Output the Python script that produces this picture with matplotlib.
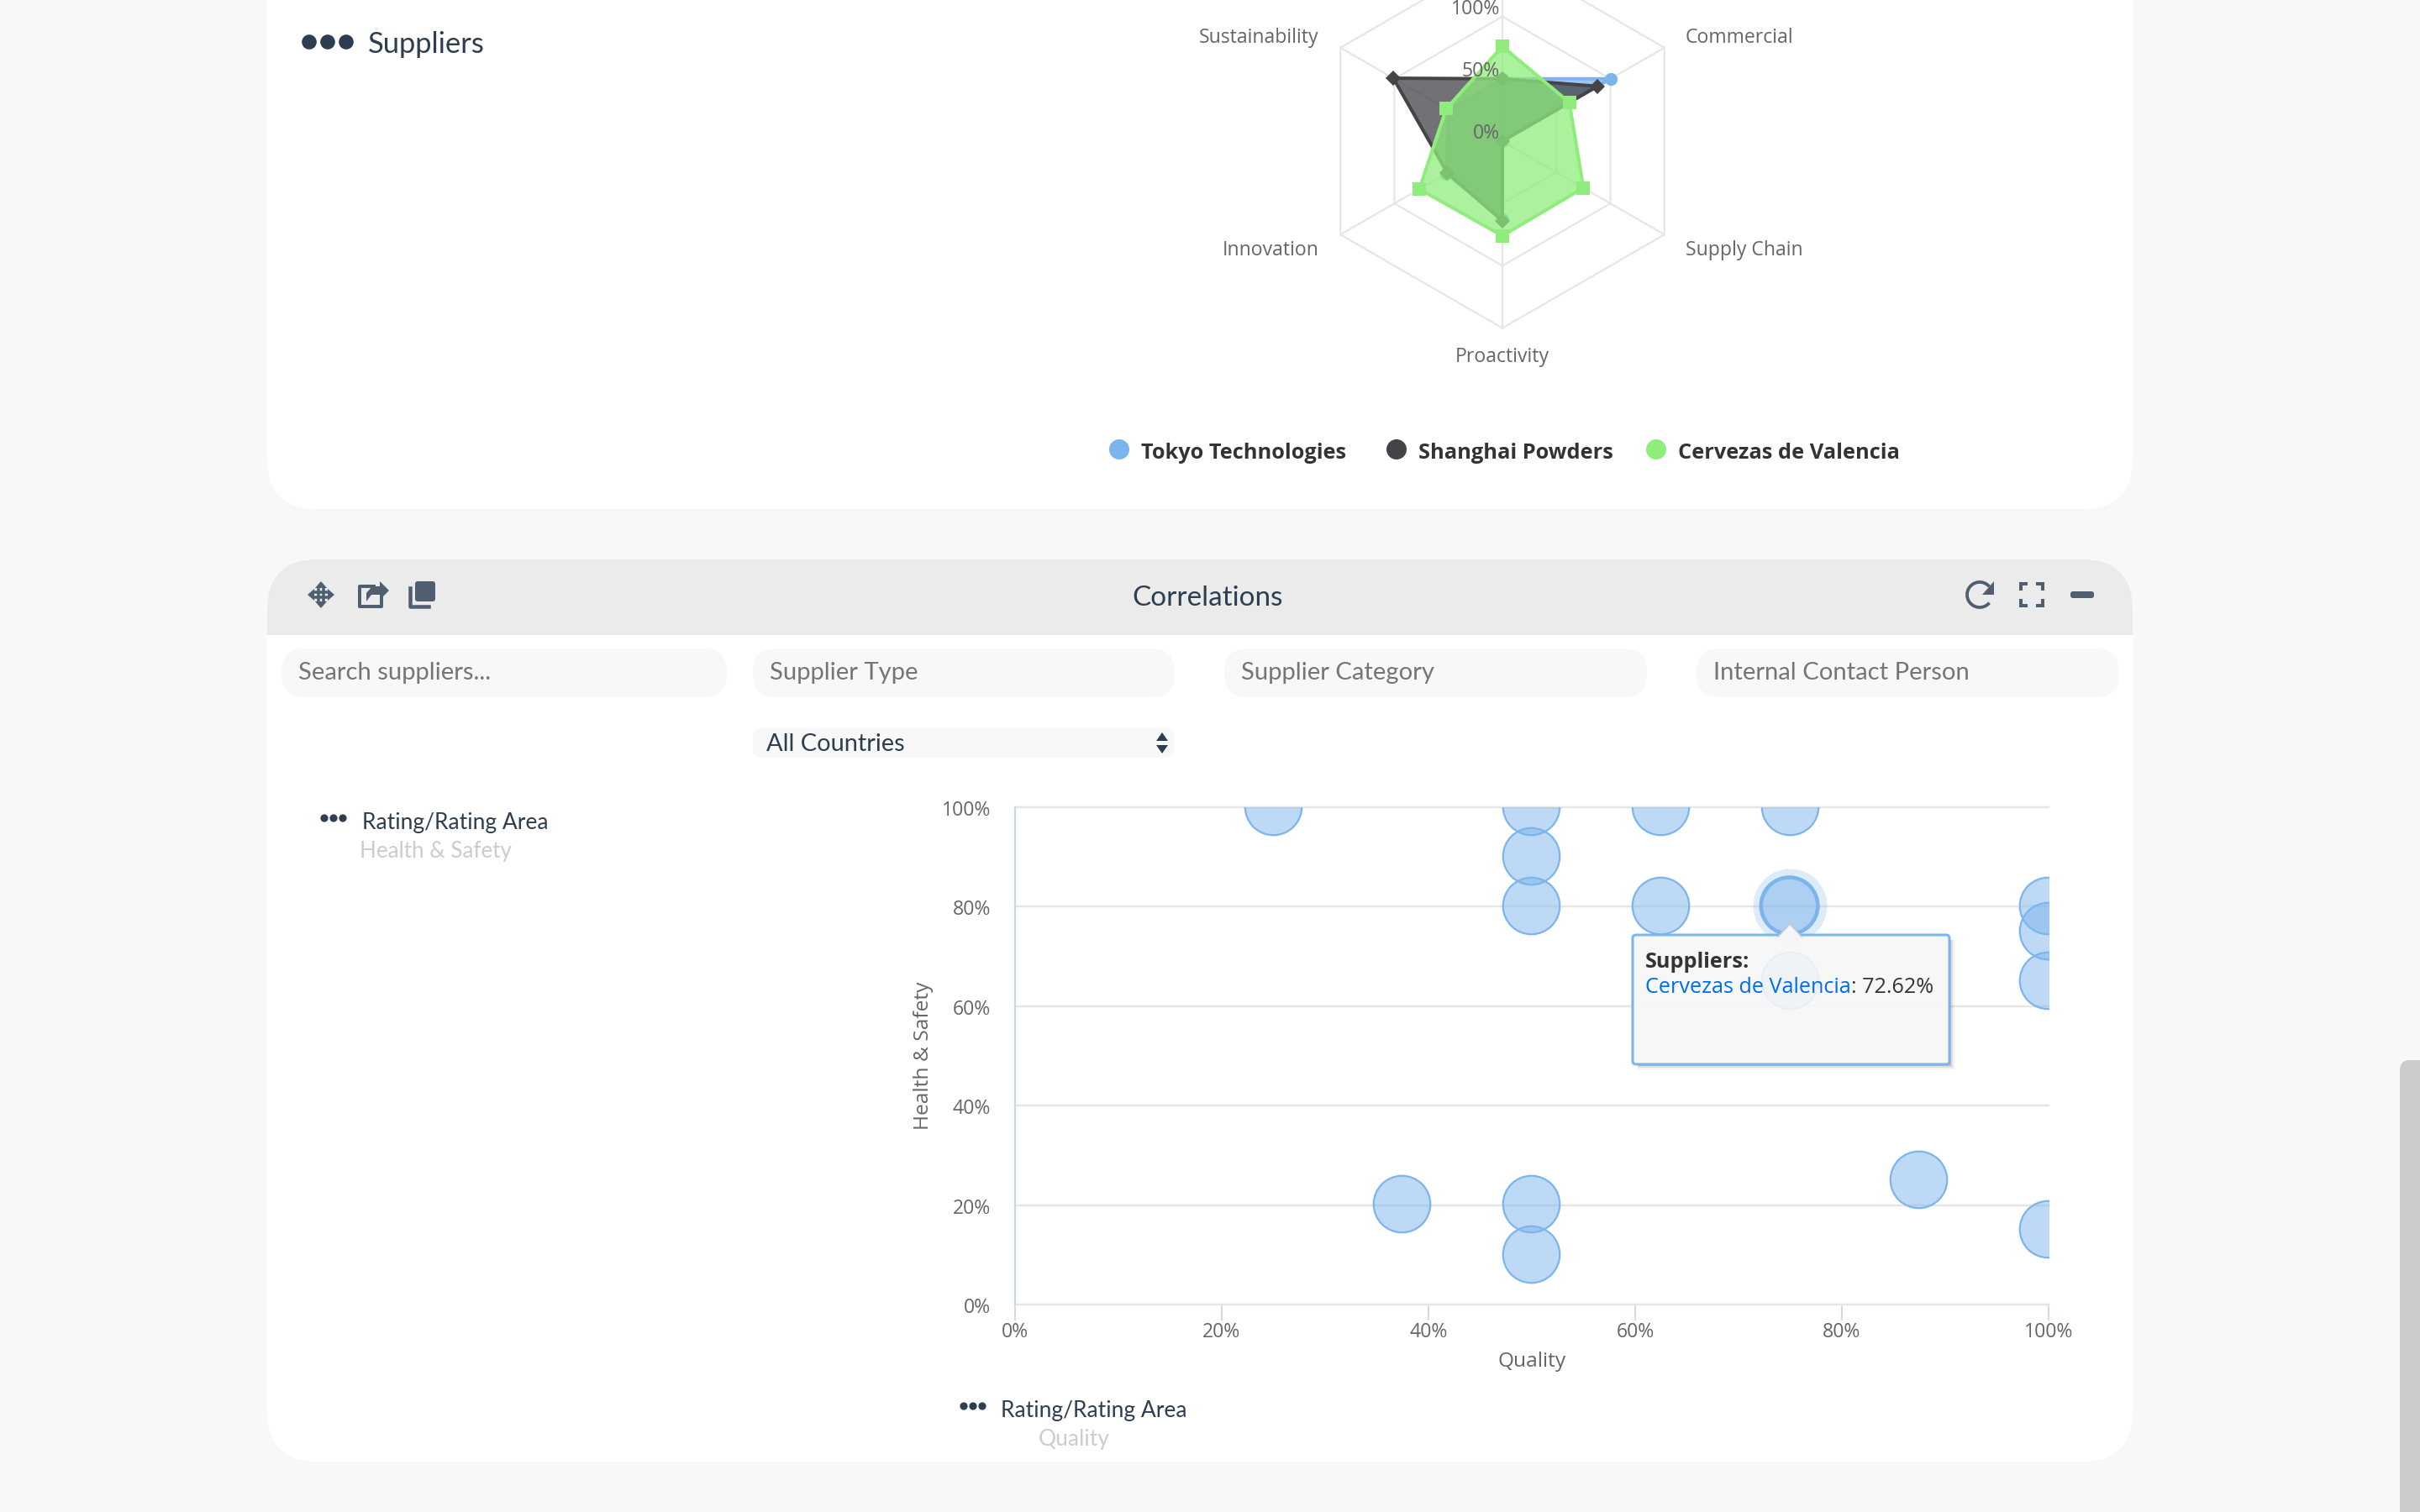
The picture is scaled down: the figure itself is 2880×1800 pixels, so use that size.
import numpy as np
import matplotlib
matplotlib.use("Agg")
import matplotlib.pyplot as plt
from matplotlib.patches import FancyBboxPatch, Rectangle, Circle, Polygon, Arc
from matplotlib.ticker import FuncFormatter
from matplotlib.transforms import ScaledTranslation

# ---------- data ----------
radar_categories = ["", "Commercial", "Supply Chain", "Proactivity", "Innovation", "Sustainability"]
radar_ticks = [0, 50, 100]
tokyo = [50, 100, 0, 63, 52, 50]
shanghai = [50, 88, 0, 64, 51, 101]
cervezas = [76, 62, 75, 76, 77, 52]
series_names = ["Tokyo Technologies", "Shanghai Powders", "Cervezas de Valencia"]

quality = [25, 50, 50, 50, 62.5, 62.5, 75, 75, 75, 100, 100, 100, 37.5, 50, 50, 87.5, 100]
health = [100, 100, 90, 80, 100, 80, 100, 80, 65, 80, 75, 65, 20, 20, 10, 25, 15]
highlight_x = [75]
highlight_y = [80]
axis_ticks = [0, 20, 40, 60, 80, 100]

filters = ["Search suppliers...", "Supplier Type", "Supplier Category", "Internal Contact Person"]

# ---------- style ----------
BLUE, DARK, GREEN = "#7cb5ec", "#434348", "#90ed7d"
NAVY = "#2c3e50"
ICON = "#505f6f"
W, H = 2880, 1800
UI = "Lato"
CH = "Open Sans"


def pt(px):
    return px * 0.72


fig = plt.figure(figsize=(W / 100, H / 100), dpi=100, facecolor="#f8f8f8")

# ---------- page background ----------
bg = fig.add_axes([0, 0, 1, 1], zorder=0)
bg.set_xlim(0, W)
bg.set_ylim(H, 0)
bg.axis("off")


def rbox(ax, x0, y0, x1, y1, r, **kw):
    p = FancyBboxPatch((x0, y0), x1 - x0, y1 - y0,
                       boxstyle=f"round,pad=0,rounding_size={r}", **kw)
    ax.add_patch(p)
    return p


rbox(bg, 318, -200, 2538, 606, 60, fc="white", ec="none")
rbox(bg, 318, 666, 2538, 1740, 60, fc="white", ec="none")
hdr = rbox(bg, 318, 666, 2538, 1740, 60, fc="#ebebeb", ec="none")
hdr.set_clip_path(Rectangle((318, 660), 2220, 96, transform=bg.transData))
# scrollbar
rbox(bg, 2856, 1262, 2890, 1900, 12, fc="#cccccc", ec="none")

# top card
for cx in (368, 390, 412):
    bg.add_patch(Circle((cx, 50), 8.8, fc=NAVY, ec="none"))
bg.text(438, 53, "Suppliers", fontfamily=UI, fontsize=pt(34.5), color=NAVY, va="center", ha="left")

# header
bg.text(1437, 712, "Correlations", fontfamily=UI, fontsize=pt(33.3), color=NAVY, va="center", ha="center")

# icons
def tri(pts, c=ICON):
    bg.add_patch(Polygon(pts, closed=True, fc=c, ec="none"))


# move
mx, my = 382, 708
bg.plot([mx - 10, mx + 10], [my - 3, my - 3], color=ICON, lw=pt(3.5), solid_capstyle="butt")
bg.plot([mx - 10, mx + 10], [my + 3, my + 3], color=ICON, lw=pt(3.5), solid_capstyle="butt")
bg.plot([mx - 3, mx - 3], [my - 10, my + 10], color=ICON, lw=pt(3.5), solid_capstyle="butt")
bg.plot([mx + 3, mx + 3], [my - 10, my + 10], color=ICON, lw=pt(3.5), solid_capstyle="butt")
tri([(mx, my - 16), (mx - 7, my - 8), (mx + 7, my - 8)])
tri([(mx, my + 16), (mx - 7, my + 8), (mx + 7, my + 8)])
tri([(mx - 16, my), (mx - 8, my - 7), (mx - 8, my + 7)])
tri([(mx + 16, my), (mx + 8, my - 7), (mx + 8, my + 7)])
# share
bg.plot([445, 428, 428, 454, 454], [698, 698, 722, 722, 712], color=ICON, lw=pt(4), solid_joinstyle="round")
tri([(452, 692), (463, 703), (452, 714), (452, 708), (442, 708), (436, 716), (436, 706), (443, 698), (452, 698)])
# copy
rbox(bg, 494, 692, 518, 716, 3, fc=ICON, ec="none")
bg.plot([488, 488, 510], [700, 722, 722], color=ICON, lw=pt(4.5), solid_joinstyle="round")
# refresh
bg.add_patch(Arc((2356, 708), 30, 30, theta1=-320, theta2=-40, color=ICON, lw=pt(3.8)))
tri([(2373, 692), (2373, 708), (2359, 708)])
# fullscreen
fx0, fx1, fy0, fy1 = 2405, 2431, 695, 721
for (xa, xb, ya, yb) in [(fx0, fx0 + 8, fy0, fy0 + 8), (fx1, fx1 - 8, fy0, fy0 + 8),
                         (fx0, fx0 + 8, fy1, fy1 - 8), (fx1, fx1 - 8, fy1, fy1 - 8)]:
    bg.plot([xa, xa, xb], [yb, ya, ya], color=ICON, lw=pt(4), solid_joinstyle="miter", solid_capstyle="butt")
# minus
rbox(bg, 2464, 704, 2492, 712, 3, fc=ICON, ec="none")

# filter fields
field_x = [(335, 865), (896, 1398), (1457, 1960), (2019, 2522)]
for (a, b), label in zip(field_x, filters):
    rbox(bg, a, 772, b, 830, 28, fc="#f8f8f8", ec="none")
    bg.text(a + 20, 801, label, fontfamily=UI, fontsize=pt(29.2), color="#757575", va="center", ha="left")
rbox(bg, 896, 867, 1397, 902, 10, fc="#f8f8f8", ec="none")
bg.text(912, 886, "All Countries", fontfamily=UI, fontsize=pt(29), color=NAVY, va="center", ha="left")
tri([(1383, 872), (1376, 882), (1390, 882)], NAVY)
tri([(1383, 897), (1376, 887), (1390, 887)], NAVY)

# side legends
for cx in (386, 397, 408):
    bg.add_patch(Circle((cx, 974), 4.6, fc=NAVY, ec="none"))
bg.text(431, 979, "Rating/Rating Area", fontfamily=UI, fontsize=pt(26.4), color=NAVY, va="center", ha="left")
bg.text(428, 1013, "Health & Safety", fontfamily=UI, fontsize=pt(26), color="#cccccc", va="center", ha="left")
for cx in (1147, 1158, 1169):
    bg.add_patch(Circle((cx, 1674), 4.6, fc=NAVY, ec="none"))
bg.text(1191, 1679, "Rating/Rating Area", fontfamily=UI, fontsize=pt(26.4), color=NAVY, va="center", ha="left")
bg.text(1236, 1713, "Quality", fontfamily=UI, fontsize=pt(26.4), color="#cccccc", va="center", ha="left")

# radar legend
for cx, tx, c, name in zip((1332, 1662, 1971), (1358, 1688, 1997), (BLUE, DARK, GREEN), series_names):
    bg.add_patch(Circle((cx, 535), 12, fc=c, ec="none"))
    bg.text(tx, 540, name, fontfamily=CH, fontsize=pt(25.4), fontweight="bold", color="#333333", va="center", ha="left")

# ---------- radar ----------
R = 222.6
cx, cy = 1788, 168
rad = fig.add_axes([(cx - R) / W, 1 - (cy + R) / H, 2 * R / W, 2 * R / H], projection="polar", zorder=1)
rad.set_theta_zero_location("N")
rad.set_theta_direction(-1)
rad.set_ylim(0, 150)
rad.axis("off")
rad.patch.set_alpha(0)
n = len(radar_categories)
theta = np.arange(n) * 2 * np.pi / n
theta_c = np.r_[theta, theta[0]]
for r in radar_ticks[1:] + [150]:
    rad.plot(theta_c, [r] * (n + 1), color="#e6e6e6", lw=pt(2.2), zorder=1, clip_on=False)
for t in theta:
    rad.plot([t, t], [0, 150], color="#e6e6e6", lw=pt(2.2), zorder=1, clip_on=False)

for i, (vals, c, m, ms) in enumerate(zip((tokyo, shanghai, cervezas), (BLUE, DARK, GREEN), ("o", "D", "s"), (11, 9.2, 11.5))):
    v = np.r_[vals, vals[0]]
    z = 3 + i
    rad.fill(theta_c, v, color=c, alpha=0.75, lw=0, zorder=z, clip_on=False)
    rad.plot(theta_c, v, color=c, lw=pt(4), zorder=z + 0.1, clip_on=False, marker=m, ms=ms, mew=0, solid_joinstyle="round")

offs = {1: (25, 12, "left"), 2: (25, -19, "left"), 3: (0, -34, "center"), 4: (-26, -19, "right"), 5: (-26, 12, "right")}
for i, name in enumerate(radar_categories):
    if not name:
        continue
    dx, dy, ha = offs[i]
    rad.annotate(name, (theta[i], 150), xytext=(pt(dx), pt(dy)), textcoords="offset points", ha=ha, va="center",
                 fontfamily=CH, fontsize=pt(23), color="#666666", annotation_clip=False, zorder=9)
for r in radar_ticks:
    rad.annotate(f"{r}%", (0, r), xytext=(pt(-3), pt(9)), textcoords="offset points", ha="right", va="center",
                 fontfamily=CH, fontsize=pt(23), color="#666666", annotation_clip=False, zorder=9)

# ---------- scatter ----------
x0, x1, y0, y1 = 1208, 2438, 961, 1553
ax = fig.add_axes([x0 / W, 1 - y1 / H, (x1 - x0) / W, (y1 - y0) / H], zorder=1)
ax.patch.set_alpha(0)
ax.set_xlim(0, 100)
ax.set_ylim(0, 100)
ax.set_xticks(axis_ticks)
ax.set_yticks(axis_ticks)
fmt = FuncFormatter(lambda v, _: f"{v:.0f}%")
ax.xaxis.set_major_formatter(fmt)
ax.yaxis.set_major_formatter(fmt)
for s in ("top", "right", "bottom"):
    ax.spines[s].set_visible(False)
ax.spines["left"].set_color("#ccd6eb")
ax.spines["left"].set_linewidth(pt(2.2))
ax.spines["left"].set_bounds(0, 100)
ax.yaxis.grid(True, color="#e6e6e6", lw=pt(2.5))
for g in ax.yaxis.get_gridlines():
    g.set_clip_on(False)
ax.set_axisbelow(True)
ax.tick_params(axis="x", length=pt(19), width=pt(1.8), color="#ccd6eb", labelsize=pt(23), labelcolor="#666666", pad=pt(2))
ax.tick_params(axis="y", length=0, labelsize=pt(23), labelcolor="#666666", pad=pt(29))
nudge_y = ScaledTranslation(0, -4 / 100, fig.dpi_scale_trans)
for lab in ax.get_xticklabels() + ax.get_yticklabels():
    lab.set_fontfamily(CH)
for lab in ax.get_yticklabels():
    lab.set_verticalalignment("center")
    lab.set_transform(lab.get_transform() + nudge_y)
ax.set_xlabel("Quality", fontfamily=CH, fontsize=pt(24.5), color="#666666", labelpad=pt(11))
ax.set_ylabel("Health & Safety", fontfamily=CH, fontsize=pt(24.5), color="#666666", labelpad=pt(10))

S = pt(67.5) ** 2
mark_tf = ax.transData + ScaledTranslation(-1 / 100, 1.2 / 100, fig.dpi_scale_trans)
ax.scatter(quality, health, s=S, facecolor=(124 / 255, 181 / 255, 236 / 255, 0.5), edgecolor=BLUE,
           linewidths=pt(2.2), zorder=3, transform=mark_tf)
ax.scatter(highlight_x, highlight_y, s=pt(88) ** 2, color=BLUE, alpha=0.25, linewidths=0, zorder=4, transform=mark_tf)
ax.scatter(highlight_x, highlight_y, s=S, facecolor="none", edgecolor=BLUE, linewidths=pt(4.5), zorder=5, transform=mark_tf)

# ---------- tooltip ----------
fg = fig.add_axes([0, 0, 1, 1], zorder=2)
fg.set_xlim(0, W)
fg.set_ylim(H, 0)
fg.axis("off")
fg.patch.set_alpha(0)
tl, tr, tt, tb = 1943, 2320, 1113, 1267
for k, a in ((6, 0.05), (4, 0.08), (2, 0.16)):
    fg.add_patch(Polygon([(tr, tt + 6), (tr + k, tt + 6), (tr + k, tb + k), (tl + 6, tb + k), (tl + 6, tb), (tr, tb)],
                         closed=True, fc="black", ec="none", alpha=a))
rbox(fg, tl, tt, tr, tb, 4, fc=(0.97, 0.97, 0.97, 0.88), ec=BLUE, lw=pt(3))
fg.add_patch(Polygon([(2130, 1100), (2116, 1115), (2144, 1115)], closed=True, fc="#f6f6f6", ec="none"))
fg.plot([2116, 2130, 2144], [1115, 1100, 1115], color="#c3cad1", lw=pt(1.6))
fg.text(1958, 1146, "Suppliers:", fontfamily=CH, fontweight="bold", fontsize=pt(25.2), color="#333333", va="center")
t1 = fg.text(1958, 1176, "Cervezas de Valencia", fontfamily=CH, fontsize=pt(25.3), color="#006cee", va="center")
fig.canvas.draw()
bb = t1.get_window_extent()
fg.text(bb.x1, 1176, ": 72.62%", fontfamily=CH, fontsize=pt(25.3), color="#333333", va="center")

fig.savefig("out.png", dpi=100, facecolor=fig.get_facecolor())
